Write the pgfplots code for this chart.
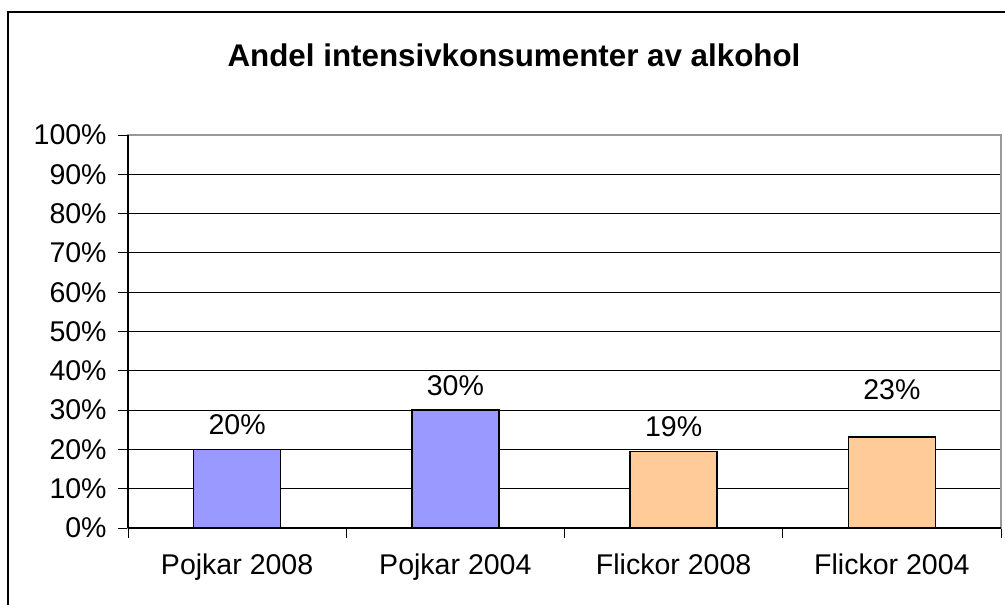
\documentclass[border=0pt]{standalone}
\usepackage{pgfplots}
\pgfplotsset{compat=1.18}
\usepackage{fontspec}
\setmainfont{Liberation Sans}
\definecolor{barblue}{HTML}{9999FF}
\definecolor{barorange}{HTML}{FFCC99}
\begin{document}
\begin{tikzpicture}
\path[use as bounding box] (0,0) rectangle (753.75pt,-453.75pt);
\draw[line width=1pt] (6pt,-9pt) rectangle (760pt,-470pt);
\node[font=\fontsize{23.5pt}{28pt}\selectfont\bfseries] at (385.5pt,-41.5pt) {Andel intensivkonsumenter av alkohol};
\begin{axis}[
  at={(96pt,-396pt)}, anchor=south west,
  scale only axis, width=654.75pt, height=294.75pt,
  xmin=-0.5, xmax=3.5, ymin=0, ymax=100,
  xtick={0,1,2,3},
  xticklabels={Pojkar 2008,Pojkar 2004,Flickor 2008,Flickor 2004},
  minor xtick={-0.5,0.5,1.5,2.5,3.5},
  xtick pos=bottom, ytick pos=left,
  major x tick style={draw=none},
  minor x tick style={black, line width=0.6pt},
  minor tick length=7.5pt,
  major tick length=7.5pt,
  tick align=outside,
  ytick={0,10,...,100},
  yticklabel={\pgfmathprintnumber{\tick}\%},
  y tick style={black, line width=0.6pt},
  ymajorgrids,
  grid style={black, line width=0.6pt},
  axis line style={draw=gray!80, line width=0.8pt},
  tick label style={font=\fontsize{21.4pt}{25pt}\selectfont},
  /pgf/number format/assume math mode=true,
  xticklabel style={yshift=-8pt},
  yticklabel style={xshift=-5pt},
  ybar, bar width=65.25pt, bar shift=0pt,
  nodes near coords={\pgfmathprintnumber[fixed,precision=0]{\pgfplotspointmeta}\%},
  nodes near coords style={font=\fontsize{21.4pt}{25pt}\selectfont, yshift=7pt},
  clip=false,
]
\addplot[draw=black, line width=1.1pt, fill=barblue] coordinates {(0,20) (1,30)};
\addplot[draw=black, line width=1.1pt, fill=barorange] coordinates {(2,19.4)};
\addplot[draw=black, line width=1.1pt, fill=barorange, nodes near coords style={yshift=17pt}] coordinates {(3,23.2)};
\draw[black, line width=0.8pt] (rel axis cs:0,0) -- (rel axis cs:0,1);
\draw[black, line width=1pt] (rel axis cs:0,0) -- (rel axis cs:1,0);
\end{axis}
\end{tikzpicture}
\end{document}
